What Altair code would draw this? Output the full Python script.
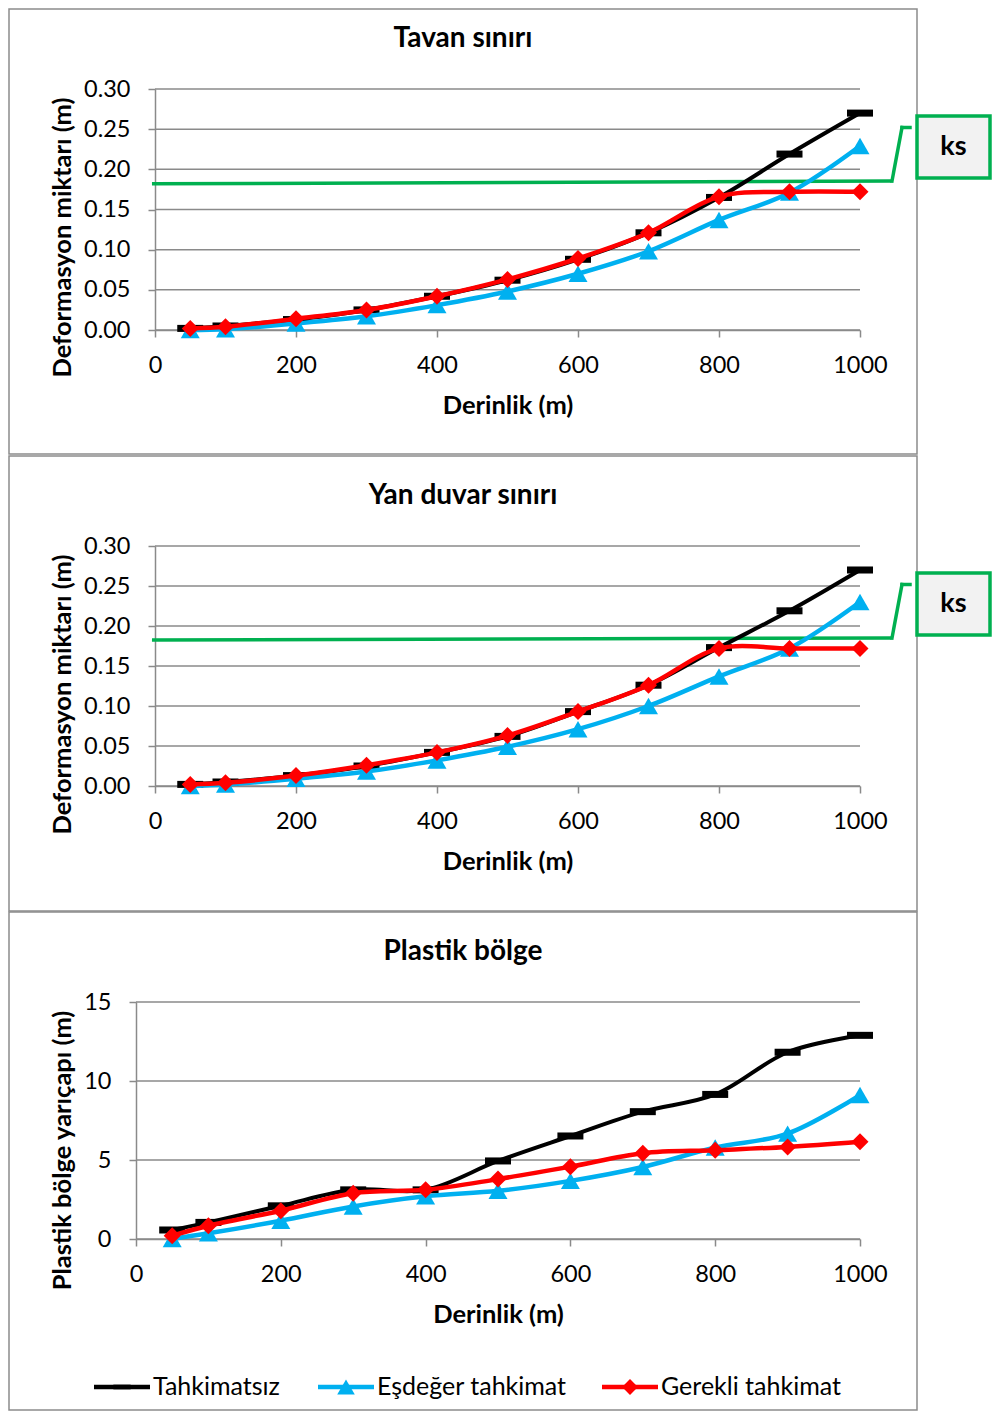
import altair as alt
import pandas as pd

# ---------------- data ----------------
depth = [50, 100, 200, 300, 400, 500, 600, 700, 800, 900, 1000]

series_names = ["Tahkimatsız", "Eşdeğer tahkimat", "Gerekli tahkimat"]

# Tavan sınırı (m)
tavan_tahkimatsiz = [0.002, 0.005, 0.013, 0.025, 0.042, 0.062, 0.088, 0.121, 0.165, 0.219, 0.270]
tavan_esdeger = [0.000, 0.001, 0.008, 0.017, 0.031, 0.048, 0.070, 0.098, 0.137, 0.171, 0.229]
tavan_gerekli = [0.002, 0.004, 0.014, 0.025, 0.042, 0.063, 0.089, 0.121, 0.166, 0.172, 0.172]

# Yan duvar sınırı (m)
yan_tahkimatsiz = [0.002, 0.005, 0.013, 0.025, 0.042, 0.062, 0.093, 0.126, 0.173, 0.219, 0.270]
yan_esdeger = [0.000, 0.002, 0.009, 0.018, 0.032, 0.049, 0.071, 0.100, 0.137, 0.172, 0.230]
yan_gerekli = [0.002, 0.004, 0.013, 0.026, 0.042, 0.063, 0.093, 0.126, 0.172, 0.172, 0.172]

# Plastik bölge yarıçapı (m)
pl_tahkimatsiz = [0.57, 1.05, 2.10, 3.11, 3.11, 4.94, 6.52, 8.06, 9.15, 11.82, 12.89]
pl_esdeger = [0.00, 0.36, 1.16, 2.06, 2.70, 3.05, 3.68, 4.56, 5.79, 6.67, 9.11]
pl_gerekli = [0.21, 0.84, 1.79, 2.90, 3.11, 3.79, 4.58, 5.43, 5.62, 5.83, 6.16]

x_ticks = [0, 200, 400, 600, 800, 1000]
def_ticks = [0.00, 0.05, 0.10, 0.15, 0.20, 0.25, 0.30]
pl_ticks = [0, 5, 10, 15]

# ks threshold line (value at left end, value at right end) and its depth extent
ks_tavan = [0.182, 0.1855]
ks_yan = [0.1825, 0.185]
ks_depth = [-4.3, 1045]

# ---------------- style ----------------
FONT = "Lato"
GRID = "#8A8A8A"
FRAME = "#8C8C8C"
GREEN = "#00B050"
COLORS = ["#000000", "#00B0F0", "#FF0000"]
DASH = "M -1 -0.27 L 1 -0.27 L 1 0.27 L -1 0.27 Z"
SHAPES = [DASH, "triangle-up", "diamond"]
SIZES = [676, 361, 289]
LEG_SIZES = [300, 310, 250]
WIDTHS = [4, 4.5, 4.5]
PLOT_W = 705

one = pd.DataFrame({"k": [0]})


def make_panel(title, ytitle, vals, ydom, yticks, yfmt, height, frame_top, frame_bottom,
               xrange=None, yoffset=0, ks=None, legend=False):
    if xrange is None:
        xscale = alt.Scale(domain=[0, 1000], nice=False, zero=False)
        xmid = PLOT_W / 2
    else:
        xscale = alt.Scale(domain=[0, 1000], range=xrange, nice=False, zero=False)
        xmid = (xrange[0] + xrange[1]) / 2
    yscale = alt.Scale(domain=ydom, nice=False, zero=False)

    xaxis = alt.Axis(values=x_ticks, format="d", title="Derinlik (m)", grid=False,
                     domainColor=GRID, domainWidth=1.5, tickColor=GRID, tickWidth=1.5,
                     tickSize=7, labelFont=FONT, labelFontSize=23.5, labelColor="black",
                     labelPadding=28, labelBaseline="middle", labelFlush=False,
                     labelOverlap=False, titleFont=FONT, titleFontSize=25.5,
                     titleFontWeight="bold", titleColor="black", titleX=xmid, titleY=75,
                     titleBaseline="middle", titleAlign="center")
    yaxis = alt.Axis(values=yticks, format=yfmt, title=ytitle, grid=False, offset=yoffset,
                     domainColor=GRID, domainWidth=1.5, tickColor=GRID, tickWidth=1.5,
                     tickSize=7, labelFont=FONT, labelFontSize=23.5, labelColor="black",
                     labelPadding=18, labelOverlap=False, labelFlush=False,
                     titleFont=FONT, titleFontSize=25.5, titleFontWeight="bold",
                     titleColor="black", titleAngle=270, titleX=-93 + yoffset, titleY=148,
                     titleBaseline="middle", titleAlign="center")

    def X(f):
        return alt.X(f, type="quantitative", scale=xscale, axis=xaxis)

    def Y(f):
        return alt.Y(f, type="quantitative", scale=yscale, axis=yaxis)

    layers = []
    # panel frame
    layers.append(alt.Chart(one).mark_rect(fillOpacity=0, stroke=FRAME, strokeWidth=1.5).encode(
        x=alt.value(-146), x2=alt.value(762), y=alt.value(frame_top), y2=alt.value(frame_bottom)))
    # horizontal grid lines
    gdf = pd.DataFrame({"d0": [0] * len(yticks), "d1": [1000] * len(yticks), "v": yticks})
    layers.append(alt.Chart(gdf).mark_rule(color=GRID, strokeWidth=1.5).encode(
        x=X("d0"), x2="d1:Q", y=Y("v")))
    # ks line
    if ks is not None:
        kdf = pd.DataFrame({"d0": [ks_depth[0]], "d1": [ks_depth[1]], "v0": [ks[0]], "v1": [ks[1]]})
        layers.append(alt.Chart(kdf).mark_rule(color=GREEN, strokeWidth=3.5).encode(
            x=X("d0"), x2="d1:Q", y=Y("v0"), y2="v1:Q"))
    # series
    for i, v in enumerate(vals):
        df = pd.DataFrame({"depth": depth, "value": v})
        layers.append(alt.Chart(df).mark_line(
            color=COLORS[i], strokeWidth=WIDTHS[i], interpolate="catmull-rom",
            point=alt.OverlayMarkDef(shape=SHAPES[i], size=SIZES[i], color=COLORS[i],
                                     filled=True, opacity=1)).encode(x=X("depth"), y=Y("value")))
    # ks callout
    if ks is not None:
        layers.append(alt.Chart(one).mark_rule(color=GREEN, strokeWidth=3.5, strokeCap="square").encode(
            x=alt.value(737), x2=alt.value(747), y=alt.value(92), y2=alt.value(38.5)))
        layers.append(alt.Chart(one).mark_rule(color=GREEN, strokeWidth=3.5, strokeCap="square").encode(
            x=alt.value(747), x2=alt.value(755), y=alt.value(38.5)))
        layers.append(alt.Chart(one).mark_rect(fill="#F2F2F2", stroke=GREEN, strokeWidth=3.5).encode(
            x=alt.value(762), x2=alt.value(835), y=alt.value(27), y2=alt.value(89)))
        layers.append(alt.Chart(one).mark_text(font=FONT, fontSize=27, fontWeight="bold",
                                               color="black", align="center", baseline="middle").encode(
            x=alt.value(798.5), y=alt.value(58), text=alt.value("ks")))
    # panel title
    layers.append(alt.Chart(one).mark_text(font=FONT, fontSize=28, fontWeight="bold", color="black",
                                           align="center", baseline="middle").encode(
        x=alt.value(308), y=alt.value(-50), text=alt.value(title)))
    # legend
    if legend:
        lefts = [-61, 163, 447]
        for i, name in enumerate(series_names):
            l0 = lefts[i]
            layers.append(alt.Chart(one).mark_rule(color=COLORS[i], strokeWidth=4.5).encode(
                x=alt.value(l0), x2=alt.value(l0 + 56), y=alt.value(385)))
            layers.append(alt.Chart(one).mark_point(shape=SHAPES[i], size=LEG_SIZES[i],
                                                    color=COLORS[i], filled=True, opacity=1).encode(
                x=alt.value(l0 + 28), y=alt.value(385)))
            layers.append(alt.Chart(one).mark_text(font=FONT, fontSize=25, color="black",
                                                   align="left", baseline="middle").encode(
                x=alt.value(l0 + 59), y=alt.value(385), text=alt.value(name)))

    return alt.layer(*layers).properties(width=PLOT_W, height=height)


p1 = make_panel("Tavan sınırı", "Deformasyon miktarı (m)",
                [tavan_tahkimatsiz, tavan_esdeger, tavan_gerekli],
                [0, 0.30], def_ticks, ".2f", 241, -80, 365, ks=ks_tavan)
p2 = make_panel("Yan duvar sınırı", "Deformasyon miktarı (m)",
                [yan_tahkimatsiz, yan_esdeger, yan_gerekli],
                [0, 0.30], def_ticks, ".2f", 240, -90, 365, ks=ks_yan)
p3 = make_panel("Plastik bölge", "Plastik bölge yarıçapı (m)",
                [pl_tahkimatsiz, pl_esdeger, pl_gerekli],
                [0, 15], pl_ticks, "d", 237, -90, 408, xrange=[-19, PLOT_W], yoffset=19,
                legend=True)

chart = alt.vconcat(p1, p2, p3, spacing=216, bounds="flush", padding=0).configure(
    background="white", padding=0
).configure_view(stroke=None)

chart.save("out.html", embed_options={"renderer": "svg", "actions": False})
